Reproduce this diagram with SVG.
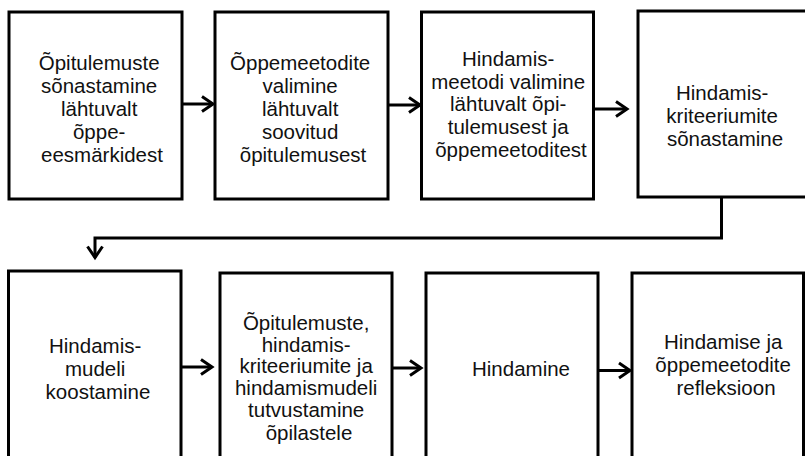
<svg xmlns="http://www.w3.org/2000/svg" width="805" height="456" viewBox="0 0 805 456">
  <style>
    .box { fill: #ffffff; stroke: #000000; stroke-width: 3; }
    .label { font-family: "Liberation Sans", Arial, sans-serif; font-size: 20.5px; fill: #111111; text-anchor: middle; }
    .conn { fill: none; stroke: #000000; stroke-width: 3; marker-end: url(#chevron); }
  </style>
  <defs>
    <marker id="chevron" markerUnits="userSpaceOnUse" markerWidth="24" markerHeight="24" viewBox="-16 -12 24 24" refX="0" refY="0" orient="auto">
      <path d="M-11,-7.5 L0,0 L-11,7.5" fill="none" stroke="#000000" stroke-width="3"/>
    </marker>
  </defs>
  <rect width="805" height="456" fill="#ffffff"/>

  <!-- top row -->
  <g id="node-opitulemuste-sonastamine">
    <rect class="box" x="9" y="12" width="173" height="187"/>
    <text class="label">
      <tspan x="102" y="70">Õpitulemuste</tspan>
      <tspan x="102" y="93">sõnastamine</tspan>
      <tspan x="102" y="116">lähtuvalt</tspan>
      <tspan x="102" y="139">õppe-</tspan>
      <tspan x="102" y="162">eesmärkidest</tspan>
    </text>
  </g>
  <g id="node-oppemeetodite-valimine">
    <rect class="box" x="215" y="12" width="173" height="187"/>
    <text class="label">
      <tspan x="303" y="70">Õppemeetodite</tspan>
      <tspan x="303" y="93">valimine</tspan>
      <tspan x="303" y="116">lähtuvalt</tspan>
      <tspan x="303" y="139">soovitud</tspan>
      <tspan x="303" y="162">õpitulemusest</tspan>
    </text>
  </g>
  <g id="node-hindamismeetodi-valimine">
    <rect class="box" x="421.5" y="12" width="172" height="187"/>
    <text class="label">
      <tspan x="511" y="65.5">Hindamis-</tspan>
      <tspan x="511" y="88.5">meetodi valimine</tspan>
      <tspan x="511" y="111">lähtuvalt õpi-</tspan>
      <tspan x="511" y="134">tulemusest ja</tspan>
      <tspan x="511" y="157">õppemeetoditest</tspan>
    </text>
  </g>
  <g id="node-hindamiskriteeriumite-sonastamine">
    <rect class="box" x="638" y="11" width="180" height="186"/>
    <text class="label">
      <tspan x="725" y="100">Hindamis-</tspan>
      <tspan x="725" y="123">kriteeriumite</tspan>
      <tspan x="725" y="146">sõnastamine</tspan>
    </text>
  </g>

  <!-- bottom row -->
  <g id="node-hindamismudeli-koostamine">
    <rect class="box" x="8.5" y="271" width="172.5" height="200"/>
    <text class="label">
      <tspan x="98" y="353">Hindamis-</tspan>
      <tspan x="98" y="376">mudeli</tspan>
      <tspan x="98" y="398.5">koostamine</tspan>
    </text>
  </g>
  <g id="node-tutvustamine">
    <rect class="box" x="220" y="273" width="172" height="200"/>
    <text class="label">
      <tspan x="309" y="330">Õpitulemuste,</tspan>
      <tspan x="309" y="352">hindamis-</tspan>
      <tspan x="309" y="373">kriteeriumite ja</tspan>
      <tspan x="309" y="395">hindamismudeli</tspan>
      <tspan x="309" y="417">tutvustamine</tspan>
      <tspan x="309" y="440">õpilastele</tspan>
    </text>
  </g>
  <g id="node-hindamine">
    <rect class="box" x="426" y="273" width="172" height="200"/>
    <text class="label">
      <tspan x="521" y="376">Hindamine</tspan>
    </text>
  </g>
  <g id="node-refleksioon">
    <rect class="box" x="632" y="273" width="171.5" height="200"/>
    <text class="label">
      <tspan x="726" y="348.5">Hindamise ja</tspan>
      <tspan x="726" y="372">õppemeetodite</tspan>
      <tspan x="726" y="394.5">refleksioon</tspan>
    </text>
  </g>

  <!-- connectors -->
  <g id="connectors">
    <path class="conn" d="M182,104 H213"/>
    <path class="conn" d="M388,105 H420"/>
    <path class="conn" d="M594,109 H627"/>
    <path class="conn" d="M721.5,197 V238 H95 V257.5"/>
    <path class="conn" d="M181,367 H212"/>
    <path class="conn" d="M392,368 H421"/>
    <path class="conn" d="M598,370.5 H630"/>
  </g>
</svg>
